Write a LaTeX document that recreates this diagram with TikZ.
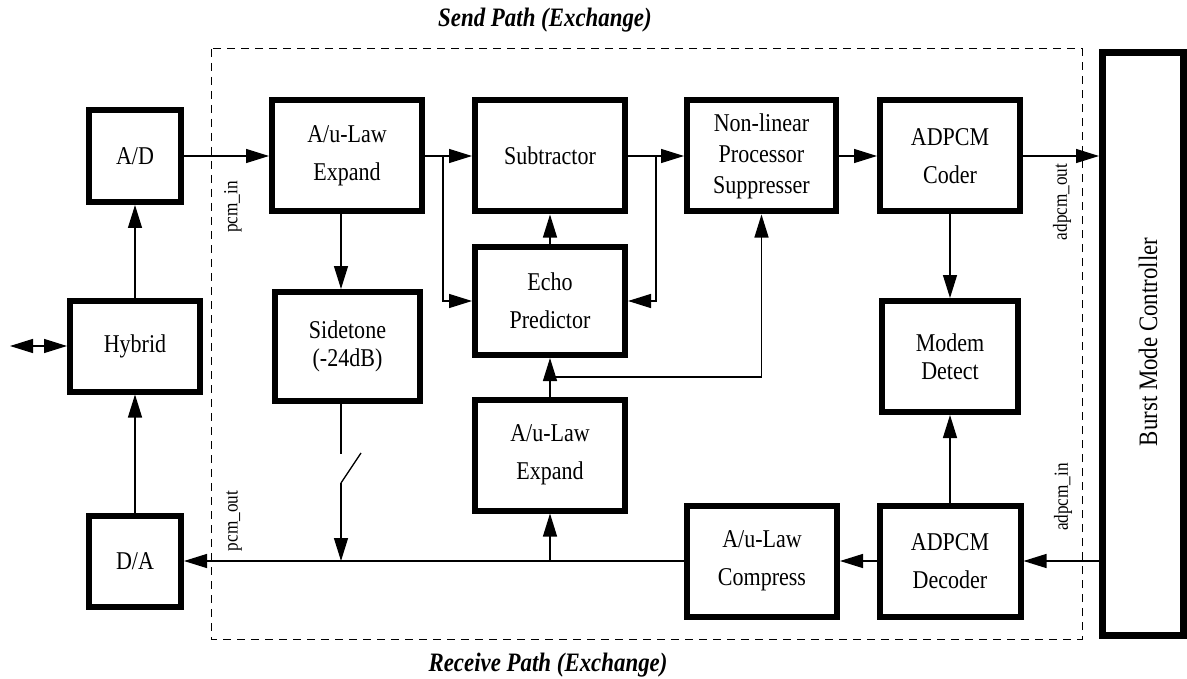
\documentclass[tikz,border=0pt]{standalone}
\usepackage{fontspec}
\setmainfont[FakeStretch=0.86]{Liberation Serif}
\usepackage{tikz}
\usetikzlibrary{arrows.meta,positioning,calc}

\begin{document}
\begin{tikzpicture}[
  x=0.5pt, y=-0.5pt,
  blk/.style={draw, line width=3pt, minimum width=75pt, minimum height=55.5pt, inner sep=2pt, align=center, font=\fontsize{12.8}{19}\selectfont},
  tight/.style={font=\fontsize{12.8}{14}\selectfont},
  sig/.style={rotate=90, inner sep=1pt, font=\fontsize{10}{11}\selectfont},
  ttl/.style={font=\fontsize{13.3}{15}\selectfont\bfseries\itshape},
  wire/.style={line width=0.65pt},
  >={Triangle[length=11.5pt,width=7pt]},
]
\useasboundingbox (0,0) rectangle (1187,679);
\draw[line width=0.5pt, dash pattern=on 4pt off 3pt] (211,49) rectangle (1082,639);
\node[ttl] (snd) at (545,20) {Send Path (Exchange)};
\node[ttl] (rcv) at (548,665) {Receive Path (Exchange)};

\node[blk, minimum width=46pt, minimum height=46pt] (ad) at (135,156) {A/D};
\node[blk, minimum width=65pt, minimum height=45.5pt] (hyb) at (135,346) {Hybrid};
\node[blk, minimum width=46pt, minimum height=45.5pt] (da) at (135,561) {D/A};
\node[blk] (exp1) at (347,156) {A/u-Law\\Expand};
\node[blk, tight, minimum width=72.5pt, minimum height=54.5pt] (side) at (347.5,346.5) {Sidetone\\(-24dB)};
\node[blk] (sub) at (550,156) {Subtractor};
\node[blk, minimum height=54pt] (echo) at (550,301) {Echo\\Predictor};
\node[blk] (exp2) at (550,455) {A/u-Law\\Expand};
\node[blk, minimum width=74.5pt, font=\fontsize{12.8}{15.5}\selectfont] (nlp) at (761.5,156) {Non-linear\\Processor\\Suppresser};
\node[blk, minimum width=70pt] (cod) at (950,156) {ADPCM\\Coder};
\node[blk, tight, minimum width=68pt] (mod) at (950,356.5) {Modem\\Detect};
\node[blk, minimum width=70.5pt] (dec) at (950,561) {ADPCM\\Decoder};
\node[blk] (comp) at (762,561) {A/u-Law\\Compress};
\node[draw, line width=3.5pt, minimum width=40.5pt, minimum height=291.5pt] (bmc) at (1143,344) {};
\node[rotate=90, font=\fontsize{13.3}{15}\selectfont] (bmctxt) at (1148,342) {Burst Mode Controller};

\node[sig] (pin) at (233,207) {pcm\_in};
\node[sig] (pout) at (234,521) {pcm\_out};
\node[sig] (aout) at (1062,202) {adpcm\_out};
\node[sig] (ain) at (1063,497) {adpcm\_in};

\coordinate (line) at (10,346);
\coordinate (j1) at (443,156);
\coordinate (j2) at (656,156);
\coordinate (nj) at (550,377);
\coordinate (swa) at (341,454);
\coordinate (swb) at (341,483);
\coordinate (swc) at (361,453);

\draw[wire, <->] (line) -- (hyb.west);
\draw[wire, ->] (hyb.north) -- (ad.south);
\draw[wire, ->] (da.north) -- (hyb.south);
\draw[wire, ->] (ad.east) -- (exp1.west);
\draw[wire, ->] (exp1.east) -- (sub.west);
\draw[wire, ->] (j1) |- (echo.west);
\draw[wire, ->] (sub.east) -- (nlp.west);
\draw[wire, ->] (j2) |- (echo.east);
\draw[wire, ->] (echo.north) -- (sub.south);
\draw[wire, ->] (exp2.north) -- (echo.south);
\draw[wire, ->] (nj) -| (nlp.south);
\draw[wire, ->] (nlp.east) -- (cod.west);
\draw[wire, ->] (cod.east) -- (cod.east -| bmc.west);
\draw[wire, ->] (cod.south) -- (mod.north);
\draw[wire, ->] (dec.north) -- (mod.south);
\draw[wire, ->] (dec.east -| bmc.west) -- (dec.east);
\draw[wire, ->] (dec.west) -- (comp.east);
\draw[wire, ->] (comp.west) -- (da.east);
\draw[wire, ->] (exp2.south |- comp.west) -- (exp2.south);
\draw[wire, ->] (exp1.south -| swa) -- (side.north -| swa);
\draw[wire] (side.south -| swa) -- (swa);
\draw[wire] (swb) -- (swc);
\draw[wire, ->] (swb) -- (swb |- comp.west);
\end{tikzpicture}
\end{document}
